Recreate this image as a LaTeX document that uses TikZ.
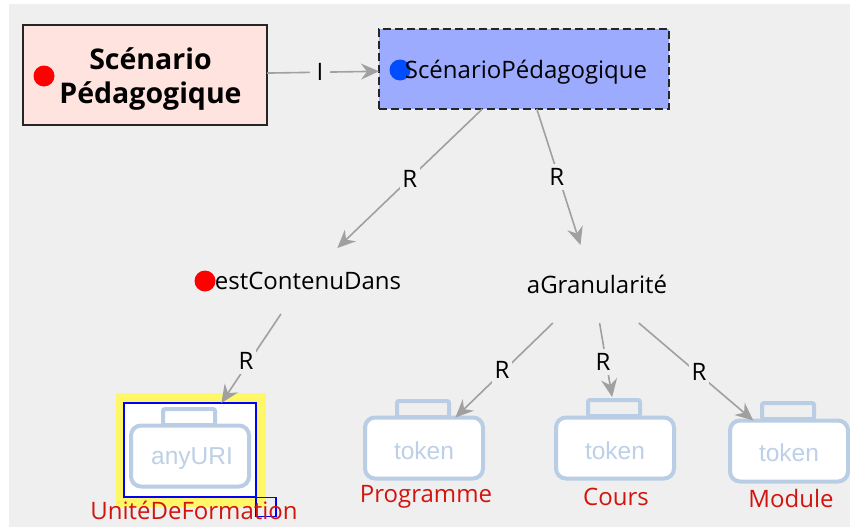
\documentclass[tikz,border=0pt]{standalone}
\usepackage{fontspec}
\setmainfont{Open Sans}
\newfontfamily\bagfont{Liberation Sans}
\usetikzlibrary{arrows.meta}
\definecolor{bgc}{HTML}{EFEFEF}
\definecolor{edgec}{HTML}{A0A0A0}
\definecolor{bagc}{HTML}{B9CDE5}
\definecolor{bagt}{HTML}{BDD0E8}
\definecolor{redt}{HTML}{D2140F}
\definecolor{pinkc}{HTML}{FFE3DF}
\definecolor{pedc}{HTML}{9DABFF}
\definecolor{yelc}{HTML}{FFF768}
\tikzset{
  every node/.style={inner sep=0pt,outer sep=0pt},
  link/.style={draw=edgec,line width=1.6pt,-{Stealth[length=18pt,width=16pt,inset=6pt]}},
  lab/.style={midway,fill=bgc,font=\fontsize{24}{24}\selectfont,minimum width=20pt,minimum height=26pt},
  ghost/.style={minimum height=#1,font=\fontsize{24}{28}\selectfont},
  dot/.style={circle,minimum size=21pt},
  body/.style={draw=bagc,fill=white,line width=4pt,rounded corners=10pt,minimum width=118pt,minimum height=61pt,font=\bagfont\fontsize{24.5}{26}\selectfont,text=bagt},
  handle/.style={draw=bagc,fill=bgc,line width=4pt,rounded corners=2pt,minimum width=52pt,minimum height=16pt},
  tag/.style={text=redt,font=\fontsize{24}{28}\selectfont},
}
\begin{document}
\begin{tikzpicture}[x=1pt,y=-1pt]
\useasboundingbox (0,0) rectangle (850,527);
\fill[bgc] (9,4) rectangle (850,527);
% classes
\node[draw=black!85,fill=pinkc,line width=2pt,minimum width=244pt,minimum height=100pt] (scen) at (145,75) {};
\node[font=\bfseries\fontsize{28.5}{34}\selectfont,align=center] (scentext) at (150.5,79) {Scénario\\Pédagogique};
\node[dot,fill=red] (scendot) at (44,76) {};
\node[draw=black!85,dash pattern=on 8pt off 4pt,fill=pedc,line width=1.8pt,minimum width=290pt,minimum height=80pt] (ped) at (524,69) {};
\node[dot,fill=blue!70!cyan] (peddot) at (400,70) {};
\node[font=\fontsize{24}{28}\selectfont] (pedtext) at (526,72) {ScénarioPédagogique};
\node[ghost=66pt] (est) at (303,281) {\hspace*{10pt}estContenuDans};
\node[dot,fill=red] (estdot) at (205,281) {};
\node[ghost=78pt] (gran) at (593,284) {\hspace*{8pt}aGranularité};
% anyURI
\node[fill=yelc,minimum width=150pt,minimum height=114pt] (sel) at (191,450) {};
\node[draw=blue,fill=white,line width=2pt,minimum width=132pt,minimum height=94pt] (uri) at (190,450) {};
\node[draw=blue,line width=1.4pt,minimum width=20pt,minimum height=19pt] (grip) at (266,507) {};
\node[handle,fill=white] (urih) at (189,417) {};
\node[body] (urib) at (190,456) {\rule{0pt}{22pt}\hspace*{4pt}anyURI};
% bags
\node[handle] (progh) at (423,409) {};
\node[body] (progb) at (424,448) {\rule{0pt}{23pt}token};
\node[handle] (coursh) at (614,408) {};
\node[body] (coursb) at (615,448) {\rule{0pt}{23pt}token};
\node[handle] (modh) at (788,411) {};
\node[body] (modb) at (789,451) {\rule{0pt}{22pt}token};
% captions
\node[tag] (urit) at (194,510) {UnitéDeFormation};
\node[tag] (progt) at (426,497) {Programme};
\node[tag] (courst) at (616,497) {Cours};
\node[tag] (modt) at (791,498) {Module};
% connectors
\draw[link] (scen) -- node[lab,xshift=-3pt] (l1) {I} (ped);
\draw[link] (ped) -- node[lab] (l2) {R} (est);
\draw[link] (ped) -- node[lab,xshift=-2pt] (l3) {R} (gran);
\draw[link] (est) -- node[lab,xshift=-5pt,yshift=-2pt] (l4) {R} (uri);
\draw[link] (gran) -- node[lab,xshift=-2pt] (l5) {R} (progb);
\draw[link,shorten >=3pt] (gran) -- node[lab,xshift=-3pt] (l6) {R} (coursh);
\draw[link] (gran) -- node[lab,xshift=3pt] (l7) {R} (modb);
\end{tikzpicture}
\end{document}
